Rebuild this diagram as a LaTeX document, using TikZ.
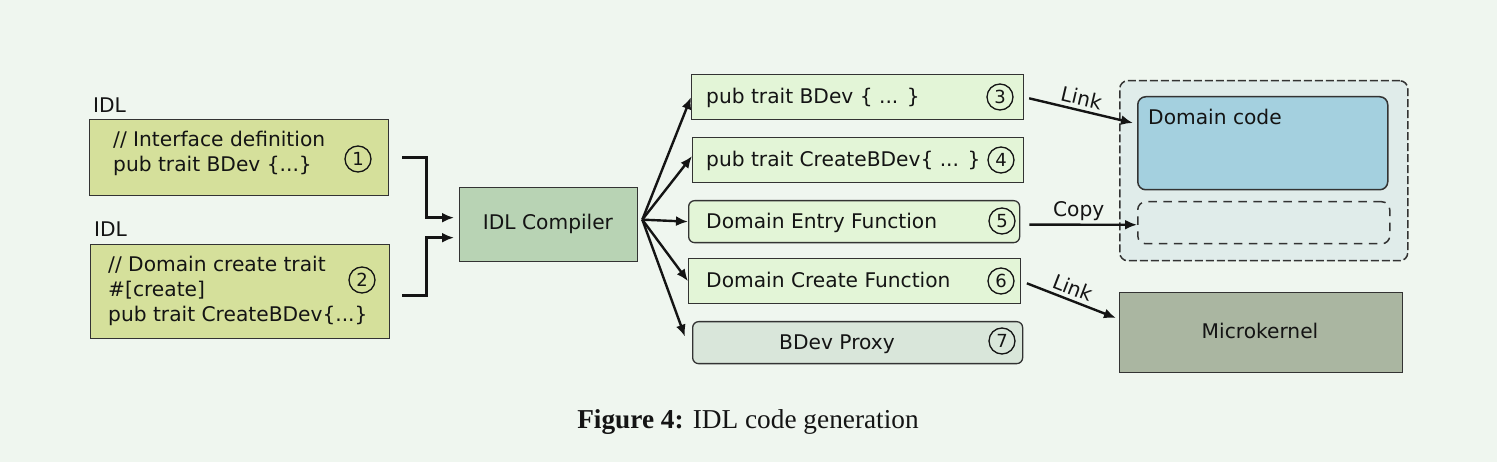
\documentclass[tikz,border=0pt]{standalone}
\usepackage{fontspec}
\setmainfont{DejaVu Sans}
\newfontfamily\capfont{Liberation Serif}
\usetikzlibrary{arrows.meta,calc}
\definecolor{bgc}{HTML}{EFF6EF}
\definecolor{idlc}{HTML}{D5E09B}
\definecolor{compc}{HTML}{B8D3B4}
\definecolor{genc}{HTML}{E3F5D7}
\definecolor{proxc}{HTML}{D9E6DA}
\definecolor{contc}{HTML}{E0ECEA}
\definecolor{domc}{HTML}{A4D0DF}
\definecolor{microc}{HTML}{AAB6A1}
\definecolor{bordc}{HTML}{333333}
\definecolor{txtc}{HTML}{141414}
\begin{document}
\begin{tikzpicture}[x=1pt,y=-1pt,
  lbl/.style={font=\fontsize{20.2}{24}\selectfont, inner sep=0pt, anchor=base west, text=txtc},
  box/.style={draw=bordc, line width=1.3pt, inner sep=0pt, anchor=north west},
  num/.style={circle, draw=txtc, line width=1.3pt, minimum size=26pt, inner sep=0pt, text=txtc, font=\fontsize{18}{18}\selectfont},
  arr/.style={line width=2.4pt, draw=txtc, -{Latex[length=12pt,width=10pt]}},
  tag/.style={font=\fontsize{20.2}{24}\selectfont, text=txtc, inner sep=2pt},
]
\fill[bgc] (0,0) rectangle (1497,462);
\useasboundingbox (0,0) rectangle (1497,462);

% left inputs
\node[lbl] (idl1) at (93,113) {IDL};
\node[box, fill=idlc, minimum width=299pt, minimum height=76pt] (b1) at (89,119) {};
\node[lbl] (t1a) at (113,147) {// Interface definition};
\node[lbl] (t1b) at (113,172) {pub trait BDev \{...\}};
\node[num] (n1) at (358,159) {1};

\node[lbl] (idl2) at (94,237) {IDL};
\node[box, fill=idlc, minimum width=299pt, minimum height=94pt] (b2) at (90,244) {};
\node[lbl] (t2a) at (108,272) {// Domain create trait};
\node[lbl] (t2b) at (108,297) {\#[create]};
\node[lbl] (t2c) at (108,322) {pub trait CreateBDev\{...\}};
\node[num] (n2) at (362,280) {2};

% compiler
\node[box, fill=compc, minimum width=178pt, minimum height=74pt] (comp) at (459,187) {};
\node[lbl, anchor=base] (tc) at (548,230) {IDL Compiler};

\draw[arr, shorten <=13pt, shorten >=5pt] (b1.east) -- ++(37,0) |- ([yshift=7pt]comp.west);
\draw[arr, shorten <=12pt, shorten >=5pt] ([yshift=-4pt]b2.east) -- ++(36,0) |- ([yshift=-13pt]comp.west);

% generated items
\node[box, fill=genc, minimum width=332pt, minimum height=45pt] (b3) at (691,74) {};
\node[lbl] (t3) at (706,104) {pub trait BDev \{ ... \}};
\node[num] (n3) at (1000,97) {3};

\node[box, fill=genc, minimum width=331pt, minimum height=45pt] (b4) at (692,137) {};
\node[lbl] (t4) at (706,167) {pub trait CreateBDev\{ ... \}};
\node[num] (n4) at (1001,160) {4};

\node[box, fill=genc, rounded corners=6pt, minimum width=331pt, minimum height=42pt] (b5) at (688,200) {};
\node[lbl] (t5) at (706,228.5) {Domain Entry Function};
\node[num] (n5) at (1002,221) {5};

\node[box, fill=genc, minimum width=332pt, minimum height=45pt] (b6) at (688,258) {};
\node[lbl] (t6) at (706,288) {Domain Create Function};
\node[num] (n6) at (1001,281) {6};

\node[box, fill=proxc, rounded corners=6pt, minimum width=330pt, minimum height=42pt] (b7) at (692,321) {};
\node[lbl, anchor=base] (t7) at (837,349.5) {BDev Proxy};
\node[num] (n7) at (1002,341) {7};

\coordinate (fan) at ([xshift=4pt,yshift=5pt]comp.east);
\draw[arr] (fan) -- (b3.west);
\draw[arr] (fan) -- ([yshift=4pt]b4.west);
\draw[arr] (fan) -- (b5.west);
\draw[arr] (fan) -- (b6.west);
\draw[arr] (fan) -- ([xshift=-7pt,yshift=6pt]b7.west);

% right side
\node[box, fill=contc, rounded corners=8pt, dash pattern=on 8pt off 3pt, line width=1.5pt, minimum width=288pt, minimum height=180pt] (cont) at (1119,80) {};
\node[box, fill=domc, rounded corners=8pt, line width=1.5pt, minimum width=250pt, minimum height=93pt] (dom) at (1137,96) {};
\node[lbl] (td) at (1148,125) {Domain code};
\node[box, rounded corners=8pt, dash pattern=on 8.5pt off 6.5pt, line width=1.5pt, minimum width=252pt, minimum height=42pt] (dsh) at (1137,201) {};
\node[box, fill=microc, minimum width=283pt, minimum height=80pt] (micro) at (1119,292) {};
\node[lbl, anchor=base] (tm) at (1260,339) {Microkernel};

\draw[arr, shorten <=5pt] (b3.east) -- ($(dom.north west)+(-4,27)$)
  node[tag, midway, sloped, above=2pt] (lk1) {Link};
\draw[arr, shorten <=9pt] ([yshift=-3pt]b5.east) -- ([yshift=-2pt]dsh.west)
  node[tag, midway, above=1pt] (cp) {Copy};
\draw[arr, shorten <=6pt] (b6.east) -- ($(micro.north west)+(-3,26)$)
  node[tag, midway, sloped, above=2pt] (lk2) {Link};

% caption
\node[anchor=base, inner sep=0pt, text=txtc, font=\capfont\fontsize{27.3}{31}\selectfont] (cap) at (748,428) {\textbf{Figure 4:} IDL code generation};
\end{tikzpicture}
\end{document}
